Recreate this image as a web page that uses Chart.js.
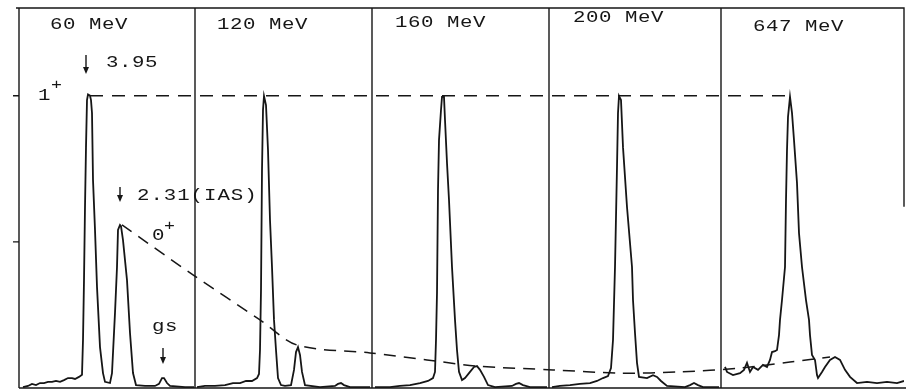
<!DOCTYPE html>
<html>
<head>
<meta charset="utf-8">
<script src="https://cdn.jsdelivr.net/npm/chart.js@4/dist/chart.umd.min.js"></script>
<style>
  html, body { margin: 0; padding: 0; background: #fff; }
  #wrap { width: 906px; height: 391px; }
</style>
</head>
<body>
<div id="wrap"><canvas id="spectra" width="906" height="391"></canvas></div>
<script>
// beam energies, one panel each
const panelNames = ['60 MeV', '120 MeV', '160 MeV', '200 MeV', '647 MeV'];
// channel where one panel ends and the next begins
const panelEdges = [176, 353, 530, 702];
const yTicks = [50, 100];

// spectra: [channel, counts normalised to the 1+ peak = 100]
const spec60 = [[4,0.3],[9,0.7],[13,1.4],[17,1.0],[21,1.7],[25,1.7],[29,2.1],[33,2.1],[37,2.4],[41,2.1],[45,2.7],[49,3.4],[53,3.4],[56,3.1],[60,3.8],[63,4.5],[64,16.4],[65,36.9],[66,61.9],[67,82.4],[68,98.5],[69,100.4],[71,100],[72,98.5],[73,94.1],[74,71.2],[76,54.1],[78,34.6],[81,14.0],[84,5.1],[86,2.1],[91,1.7],[93,5.1],[96,25.7],[98,41.4],[99,54.1],[101,55.8],[102,55.4],[104,50.6],[108,36.9],[111,18.8],[114,5.1],[117,1.0],[126,0.7],[136,0.7],[140,1.4],[143,3.4],[145,3.4],[148,1.7],[151,0.7],[166,0.3],[175,0.3]];
const spec120 = [[178,0.3],[186,0.7],[196,0.7],[206,1.0],[214,1.7],[221,1.7],[227,2.4],[233,2.4],[238,3.4],[240,4.8],[241,13.0],[242,33.5],[243,74.6],[244,95.1],[245,99.9],[247,96.8],[249,81.4],[251,57.5],[253,41.4],[255,23.3],[257,13.0],[259,3.4],[262,1.0],[266,0.7],[272,1.0],[275,6.2],[277,12.3],[279,14.0],[281,11.3],[283,5.5],[286,1.0],[301,0.3],[316,0.7],[319,1.4],[322,1.7],[325,1.0],[331,0.3],[351,0.3]];
const spec160 = [[356,0.3],[371,0.3],[381,0.7],[391,1.0],[401,1.7],[409,2.4],[414,3.4],[416,5.5],[417,16.4],[418,32.5],[419,67.7],[420,84.8],[422,95.1],[423,99.6],[425,99.6],[426,91.7],[428,77.0],[430,64.3],[433,41.4],[436,23.3],[438,13.0],[440,5.5],[443,2.7],[446,3.4],[451,5.5],[455,7.2],[458,7.5],[461,6.2],[465,3.8],[469,1.0],[476,0.3],[493,0.7],[497,1.4],[500,1.7],[504,1.0],[511,0.3],[528,0.3]];
const spec200 = [[533,0.3],[541,0.7],[551,1.0],[561,1.4],[571,1.7],[578,2.4],[584,3.4],[589,4.1],[592,6.8],[594,16.4],[596,41.4],[598,75.6],[599,94.1],[600,99.9],[602,98.5],[604,82.4],[608,61.9],[613,41.4],[614,30.1],[616,18.8],[618,8.6],[620,3.8],[628,3.4],[634,4.4],[638,3.8],[642,2.4],[648,0.7],[666,0.3],[671,1.0],[675,1.7],[679,1.0],[684,0.3],[700,0.3]];
const spec647 = [[706,7.2],[708,5.5],[714,4.4],[721,5.1],[725,6.2],[728,8.6],[731,5.5],[734,7.2],[739,6.2],[744,7.9],[748,7.2],[751,9.6],[753,12.3],[756,12.6],[758,13.0],[760,18.1],[761,23.3],[763,30.1],[766,41.4],[767,64.3],[768,81.4],[769,92.7],[771,99.6],[773,94.1],[775,84.8],[778,70.1],[780,53.0],[783,41.4],[787,30.1],[790,23.3],[791,18.1],[793,11.3],[796,9.6],[798,4.4],[799,3.4],[803,5.5],[806,7.2],[811,9.6],[816,10.6],[821,9.6],[826,6.2],[831,3.8],[838,1.7],[848,2.1],[858,1.7],[868,2.1],[878,1.7],[885,2.4]];

// guide lines: 1+ peak level and 0+ (IAS) peak trend
const level1p = [[71,100],[771,100]];
const trend0p = [[103,55.8],[174,38.7],[241,23.3],[278,14.7],[351,12.0],[408,9.6],[458,7.5],[534,6.2],[601,5.1],[661,5.5],[721,6.8],[771,8.9],[811,10.6]];

const ink = '#161616';
const toXY = arr => arr.map(p => ({ x: p[0], y: p[1] }));

function spectrum(arr) {
  return { data: toXY(arr), borderColor: ink, borderWidth: 1.8, pointRadius: 0, showLine: true, tension: 0 };
}

// wide monospaced printer-style text
function spaced(ctx, text, x, y, size, pitch) {
  ctx.font = size + 'px "Liberation Mono", "DejaVu Sans Mono", monospace';
  for (let i = 0; i < text.length; i++) {
    ctx.save();
    ctx.translate(x + i * pitch, y);
    ctx.scale(1.22, 1);
    ctx.fillText(text[i], 0, 0);
    ctx.restore();
  }
}

function arrow(ctx, x, y0, y1) {
  ctx.beginPath();
  ctx.moveTo(x, y0);
  ctx.lineTo(x, y1 - 4);
  ctx.stroke();
  ctx.beginPath();
  ctx.moveTo(x - 3, y1 - 7);
  ctx.lineTo(x + 3, y1 - 7);
  ctx.lineTo(x, y1);
  ctx.closePath();
  ctx.fill();
}

const framePlugin = {
  id: 'frame',
  beforeDatasetsDraw(chart) {
    const { ctx, chartArea: a, scales: { x, y } } = chart;
    ctx.save();
    ctx.strokeStyle = ink;
    ctx.lineWidth = 1.4;
    ctx.beginPath();
    ctx.moveTo(a.left, a.bottom); ctx.lineTo(a.left, a.top);
    ctx.moveTo(a.left - 3, a.top); ctx.lineTo(a.right, a.top);
    ctx.lineTo(a.right, y.getPixelForValue(62));
    ctx.moveTo(a.left, a.bottom); ctx.lineTo(chart.width, a.bottom);
    panelEdges.forEach(c => {
      const px = x.getPixelForValue(c);
      ctx.moveTo(px, a.top); ctx.lineTo(px, a.bottom);
    });
    yTicks.forEach(v => {
      const py = y.getPixelForValue(v);
      ctx.moveTo(a.left - 6, py); ctx.lineTo(a.left, py);
    });
    ctx.stroke();
    ctx.restore();
  },
  afterDraw(chart) {
    const { ctx, scales: { x, y } } = chart;
    const P = (c, v) => [x.getPixelForValue(c), y.getPixelForValue(v)];
    ctx.save();
    ctx.fillStyle = ink;
    ctx.strokeStyle = ink;
    ctx.lineWidth = 1.4;
    ctx.textBaseline = 'alphabetic';

    const namePos = [[31,122.8],[198,122.8],[376,123.5],[554,125.2],[734,122.1]];
    panelNames.forEach((t, i) => {
      const [px, py] = P(namePos[i][0], namePos[i][1]);
      spaced(ctx, t, px, py, 17, 13);
    });

    let p = P(87, 109.8); spaced(ctx, '3.95', p[0], p[1], 17, 13);
    p = P(67, 113.9); arrow(ctx, p[0], p[1], y.getPixelForValue(107.4));

    p = P(19, 98.5); spaced(ctx, '1', p[0], p[1], 17, 13);
    p = P(32, 102.3); spaced(ctx, '+', p[0], p[1], 15, 13);

    p = P(118, 64.3); spaced(ctx, '2.31(IAS)', p[0], p[1], 17, 13.4);
    p = P(101, 68.8); arrow(ctx, p[0], p[1], y.getPixelForValue(63.6));

    p = P(133, 50.6); spaced(ctx, '0', p[0], p[1], 17, 13);
    p = P(145, 54.1); spaced(ctx, '+', p[0], p[1], 15, 13);

    p = P(133, 19.5); spaced(ctx, 'gs', p[0], p[1], 17, 13);
    p = P(144, 13.7); arrow(ctx, p[0], p[1], y.getPixelForValue(8.2));
    ctx.restore();
  }
};

new Chart(document.getElementById('spectra'), {
  type: 'scatter',
  data: {
    datasets: [
      spectrum(spec60),
      spectrum(spec120),
      spectrum(spec160),
      spectrum(spec200),
      spectrum(spec647),
      { data: toXY(level1p), borderColor: ink, borderWidth: 1.4, borderDash: [13, 9], pointRadius: 0, showLine: true },
      { data: toXY(trend0p), borderColor: ink, borderWidth: 1.5, borderDash: [12, 8], pointRadius: 0, showLine: true, tension: 0.3 }
    ]
  },
  options: {
    responsive: false,
    animation: false,
    devicePixelRatio: 1,
    layout: { padding: { left: 19, top: 8, right: 2, bottom: 3 } },
    plugins: { legend: { display: false }, tooltip: { enabled: false } },
    scales: {
      x: { type: 'linear', min: 0, max: 885, display: false },
      y: { type: 'linear', min: 0, max: 130, display: false }
    }
  },
  plugins: [framePlugin]
});
</script>
</body>
</html>
